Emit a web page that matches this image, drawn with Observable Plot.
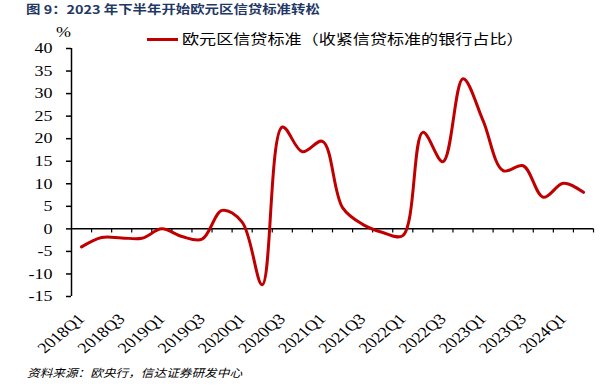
<!DOCTYPE html>
<html>
<head>
<meta charset="utf-8">
<script src="https://cdn.jsdelivr.net/npm/d3@7"></script>
<script src="https://cdn.jsdelivr.net/npm/@observablehq/plot@0.6"></script>
<style>
  html, body { margin: 0; padding: 0; background: #fff; }
  #wrap { position: relative; width: 606px; height: 387px; overflow: hidden; }
  .ov { position: absolute; white-space: nowrap; transform-origin: left center; transform: scaleX(1.2); }
  #title { left: 26px; top: 1px; font: bold 12px "Noto Sans CJK SC", sans-serif; color: #1F3864; line-height: 15px; }
  #legend { left: 147px; top: 29px; font: 14px "Noto Sans CJK SC", sans-serif; color: #000; line-height: 18px; transform: none; }
  #legend .sw { display: inline-block; width: 31px; height: 3px; background: #C00000; vertical-align: middle; margin-right: 4px; position: relative; top: -1px; }
  #legend .lt { display: inline-block; transform-origin: left center; transform: scaleX(1.22); }
  #unit { left: 56px; top: 23px; font: 15px "Liberation Serif", serif; color: #000; line-height: 18px; }
  #caption { left: 27px; top: 364px; font: italic 11px "Noto Sans CJK SC", sans-serif; color: #000; line-height: 16px; transform: scaleX(1.15); }
</style>
</head>
<body>
<div id="wrap">
  <div id="chart"></div>
  <div id="title" class="ov">图 9：2023 年下半年开始欧元区信贷标准转松</div>
  <div id="legend" class="ov"><span class="sw"></span><span class="lt">欧元区信贷标准（收紧信贷标准的银行占比）</span></div>
  <div id="unit" class="ov">%</div>
  <div id="caption" class="ov">资料来源：欧央行，信达证券研发中心</div>
</div>
<script>
const quarters = ["2018Q1","2018Q2","2018Q3","2018Q4","2019Q1","2019Q2","2019Q3","2019Q4",
  "2020Q1","2020Q2","2020Q3","2020Q4","2021Q1","2021Q2","2021Q3","2021Q4",
  "2022Q1","2022Q2","2022Q3","2022Q4","2023Q1","2023Q2","2023Q3","2023Q4",
  "2024Q1","2024Q2"];
const tightening = [-4.0, -1.9, -2.0, -2.1, 0.0, -1.7, -2.3, 4.1,
  1.5, -12.4, 22.6, 17.1, 19.4, 4.7, 1.0, -0.8,
  -1.5, 21.4, 14.9, 33.3, 24.0, 12.9, 14.0, 7.0,
  10.1, 8.1];
const xTickLabels = ["2018Q1","2018Q3","2019Q1","2019Q3","2020Q1","2020Q3","2021Q1",
  "2021Q3","2022Q1","2022Q3","2023Q1","2023Q3","2024Q1"];
const yTicks = [-15, -10, -5, 0, 5, 10, 15, 20, 25, 30, 35, 40];

const data = quarters.map((q, i) => ({q, i, v: tightening[i]}));
const labelData = xTickLabels.map(l => ({l, i: quarters.indexOf(l)}));
const n = quarters.length;
const boundaries = d3.range(1, n + 1);

const chart = Plot.plot({
  width: 606,
  height: 387,
  marginTop: 48,
  marginBottom: 91,
  marginLeft: 71,
  marginRight: 13,
  style: {background: "transparent", color: "#000", overflow: "visible"},
  x: {type: "linear", domain: [0, n], axis: null},
  y: {domain: [-15, 40], axis: null},
  marks: [
    Plot.axisY(yTicks, {anchor: "left", tickSize: 5, tickPadding: 14, fontSize: 15,
      fontFamily: "Liberation Serif, serif", tickFormat: d => String(d), label: null, strokeWidth: 1.5}),
    Plot.ruleX([0], {y1: -15, y2: 40, stroke: "#000", strokeWidth: 1.5}),
    Plot.ruleY([0], {x1: 0, x2: n, stroke: "#000", strokeWidth: 1.5}),
    Plot.ruleX(boundaries, {x: d => d, y1: 0, y2: -0.9, stroke: "#000", strokeWidth: 1.2}),
    Plot.line(data, {x: d => d.i + 0.5, y: "v", curve: "catmull-rom", stroke: "#C00000", strokeWidth: 3}),
    Plot.text(labelData, {x: d => d.i + 0.5, y: -15, text: "l", rotate: -45, textAnchor: "end",
      dx: 0, dy: 20, fontSize: 15, fontFamily: "Liberation Serif, serif", fill: "#000"})
  ]
});

document.getElementById("chart").appendChild(chart);

// horizontally stretch chart texts around their anchors (reference text is widened)
const K = 1.2;
const num = v => (v == null || /em$/.test(v)) ? 0 : (parseFloat(v) || 0);
chart.querySelectorAll("text").forEach(el => {
  const orig = el.getAttribute("transform") || "";
  const x = num(el.getAttribute("x"));
  const y = num(el.getAttribute("y"));
  let tx = 0, ty = 0;
  const m = orig.match(/translate\(\s*([-\d.e]+)\s*[, ]\s*([-\d.e]+)\s*\)/);
  if (m) { tx = +m[1]; ty = +m[2]; }
  const rotated = /rotate/.test(orig);
  const ax = tx + (rotated ? 0 : x), ay = ty + (rotated ? 0 : y);
  el.setAttribute("transform", `translate(${ax},${ay}) scale(${K},1) translate(${-ax},${-ay}) ${orig}`);
});
</script>
</body>
</html>
